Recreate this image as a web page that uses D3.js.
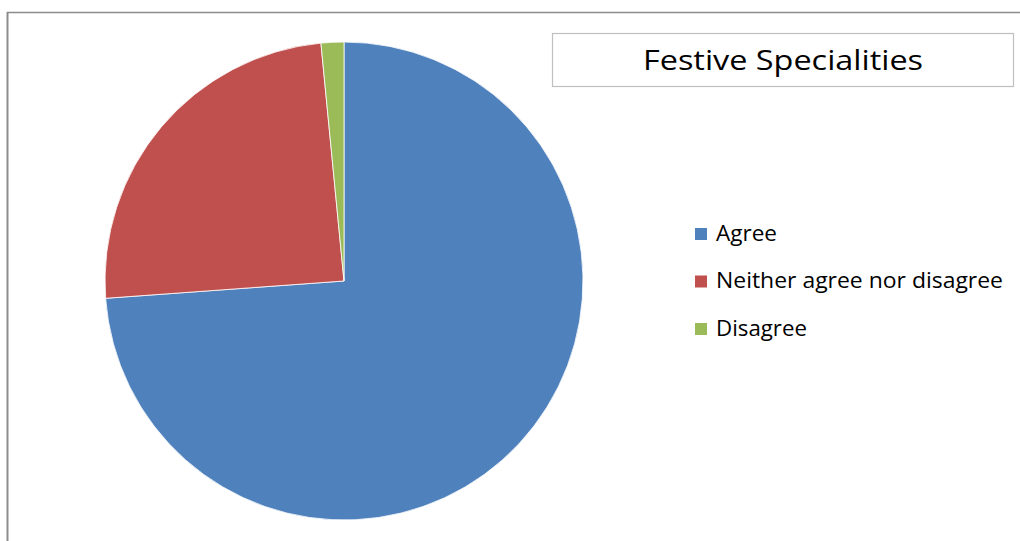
<!DOCTYPE html>
<html>
<head>
<meta charset="utf-8">
<script src="https://cdn.jsdelivr.net/npm/d3@7"></script>
<style>
  html, body { margin: 0; padding: 0; background: #fff; }
  svg { display: block; }
</style>
</head>
<body>
<svg id="chart" width="1020" height="541"></svg>
<script>
// Survey responses
const categories = ["Agree", "Neither agree nor disagree", "Disagree"];
const values = [48, 16, 1];
const colors = ["#4F81BD", "#C0504D", "#9BBB59"];
const title = "Festive Specialities";

const svg = d3.select("#chart");
const font = "'Open Sans', sans-serif";

// Chart area frame (top and left edges visible)
svg.append("line").attr("x1", 7).attr("x2", 1020).attr("y1", 12.5).attr("y2", 12.5)
  .attr("stroke", "#8c8c8c").attr("stroke-width", 1.5);
svg.append("line").attr("x1", 7.5).attr("x2", 7.5).attr("y1", 12).attr("y2", 541)
  .attr("stroke", "#8c8c8c").attr("stroke-width", 2);

// Pie
const cx = 344, cy = 281, r = 239;
const pie = d3.pie().sort(null).value(d => d)(values);
const arc = d3.arc().innerRadius(0).outerRadius(r);
const color = d3.scaleOrdinal().domain(categories).range(colors);

svg.append("g").attr("transform", `translate(${cx},${cy})`)
  .selectAll("path").data(pie).join("path")
  .attr("d", arc)
  .attr("fill", (d, i) => color(categories[i]))
  .attr("stroke", "#fff").attr("stroke-width", 0.8).attr("stroke-linejoin", "round");

// Title box
const tg = svg.append("g");
tg.append("rect").attr("x", 552.5).attr("y", 33.5).attr("width", 461).attr("height", 53)
  .attr("fill", "#fff").attr("stroke", "#bfbfbf").attr("stroke-width", 1.2);
tg.append("text").attr("x", 783).attr("y", 70).attr("text-anchor", "middle")
  .attr("font-family", font).attr("font-size", 28).attr("fill", "#000")
  .attr("textLength", 280).attr("lengthAdjust", "spacingAndGlyphs").text(title);

// Legend
const legendWidths = { "Agree": 61, "Neither agree nor disagree": 287, "Disagree": 91 };
const legend = svg.append("g").attr("transform", "translate(695,228)");
const rowY = d3.scalePoint().domain(categories).range([0, 95]);
const items = legend.selectAll("g").data(categories).join("g")
  .attr("transform", d => `translate(0,${rowY(d)})`);
items.append("rect").attr("width", 12).attr("height", 12).attr("fill", d => color(d));
items.append("text").attr("x", 21).attr("y", 12.5)
  .attr("font-family", font).attr("font-size", 21).attr("fill", "#000")
  .attr("textLength", d => legendWidths[d]).attr("lengthAdjust", "spacingAndGlyphs")
  .text(d => d);
</script>
</body>
</html>
